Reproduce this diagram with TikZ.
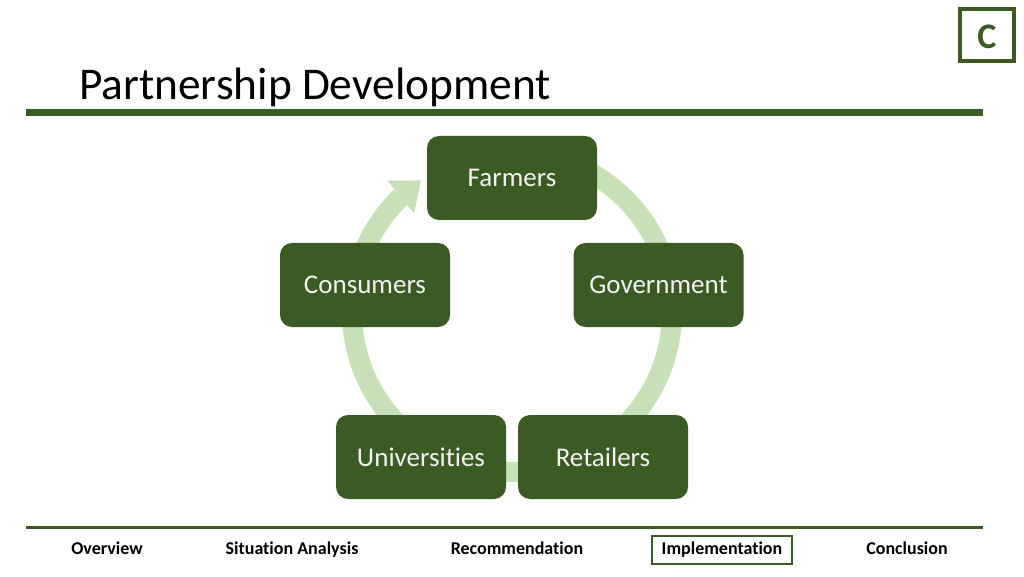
\documentclass[tikz,border=0pt]{standalone}
\usepackage{fontspec}
\setmainfont{Carlito}[Ligatures=NoCommon]
\usetikzlibrary{arrows.meta}
\usetikzlibrary{bending}
\definecolor{boxgreen}{HTML}{3B5A24}
\definecolor{ringgreen}{HTML}{C8E0B8}
\tikzset{
  stage/.style={rectangle, rounded corners=12pt, fill=boxgreen, inner sep=0pt, minimum width=170pt, minimum height=84pt, text=white!95!black, font=\fontsize{27}{32}\selectfont},
  ring/.style={line width=20pt, draw=ringgreen},
  navlabel/.style={font=\bfseries\fontsize{18}{22}\selectfont, text height=12.5pt, text depth=4.5pt},
}

\begin{document}
\begin{tikzpicture}[x=1pt,y=1pt]
\useasboundingbox (0,0) rectangle (1024,576);
\fill[white] (0,0) rectangle (1024,576);
\draw[boxgreen, line width=4pt] (960,515) rectangle (1014,567);
\node[text=boxgreen, font=\bfseries\fontsize{36}{40}\selectfont] (badge) at (987,539) {C};
\node[anchor=base west, inner sep=0pt, font=\fontsize{45.4}{50}\selectfont] (title) at (79,476) {Partnership Development};
\draw[boxgreen, line width=6.5pt] (26,463.5) -- (983,463.5);
\coordinate (hub) at (512,264);
\foreach \a/\b in {90/10.4, 10.4/-57.9, -57.9/-122.1, -122.1/-190.4}
  \draw[ring] (hub) ++(\a:160) arc[start angle=\a, end angle=\b, radius=160];
\draw[ring, -{Triangle[width=42pt,length=26pt,line width=0pt,flex]}] (hub) ++(169.6:160) arc[start angle=169.6, end angle=124.7, radius=160];
\node[stage] (farmers) at (512,398) {Farmers};
\node[stage] (government) at (658.5,291) {Government};
\node[stage] (retailers) at (603,119) {Retailers};
\node[stage] (universities) at (421,119) {Universities};
\node[stage] (consumers) at (365,291) {Consumers};
\draw[boxgreen, line width=3pt] (26,49) -- (983,49);
\node[navlabel] (overview) at (107,26) {Overview};
\node[navlabel] (situation) at (292,26) {Situation Analysis};
\node[navlabel] (recommendation) at (517,26) {Recommendation};
\node[navlabel, draw=boxgreen, line width=2pt, minimum width=140pt, minimum height=28pt, inner sep=2pt] (implementation) at (722,26) {Implementation};
\node[navlabel] (conclusion) at (907,26) {Conclusion};
\end{tikzpicture}
\end{document}
